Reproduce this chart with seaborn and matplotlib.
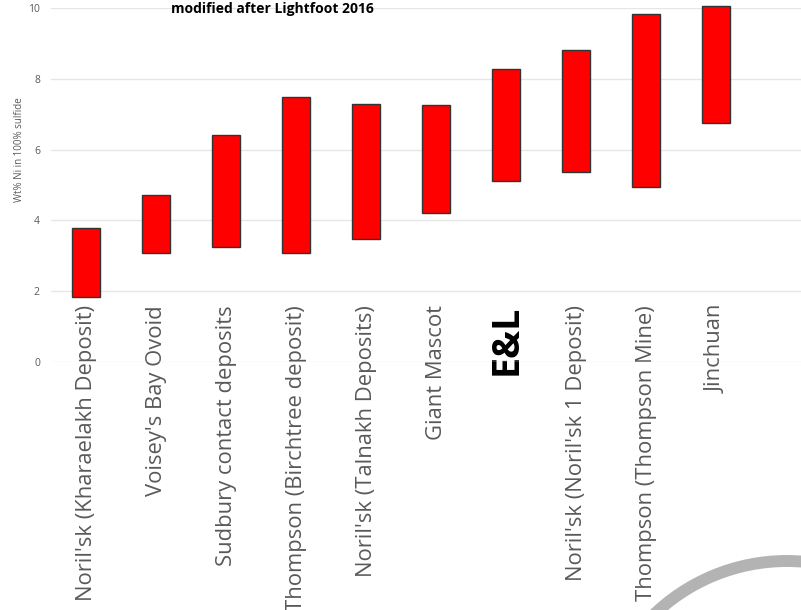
import numpy as np
import pandas as pd
import matplotlib
matplotlib.use('Agg')
import matplotlib.pyplot as plt
import seaborn as sns
from matplotlib.patches import Circle

# Ni grade ranges (wt% Ni in 100% sulfide)
deposits = [
    "Noril'sk (Kharaelakh Deposit)",
    "Voisey's Bay Ovoid",
    "Sudbury contact deposits",
    "Thompson (Birchtree deposit)",
    "Noril'sk (Talnakh Deposits)",
    "Giant Mascot",
    "E&L",
    "Noril'sk (Noril'sk 1 Deposit)",
    "Thompson (Thompson Mine)",
    "Jinchuan",
]
ni_low = [1.84, 3.08, 3.25, 3.08, 3.47, 4.20, 5.11, 5.37, 4.94, 6.76]
ni_high = [3.79, 4.72, 6.41, 7.49, 7.29, 7.26, 8.28, 8.81, 9.83, 10.05]
y_ticks = [0, 2, 4, 6, 8, 10]

df = pd.DataFrame({'deposit': deposits, 'low': ni_low, 'high': ni_high})
df['span'] = df['high'] - df['low']

sns.set_theme(style='white')
plt.rcParams['font.family'] = ['Open Sans', 'DejaVu Sans']

fig = plt.figure(figsize=(8.01, 6.10), dpi=100)
ax = fig.add_axes([51 / 801, 248 / 610, 750 / 801, 354 / 610])

sns.barplot(data=df, x='deposit', y='span', bottom=df['low'].values,
            color='#FF0000', saturation=1, width=0.4,
            edgecolor='#333333', linewidth=1, ax=ax, zorder=3)
for p in ax.patches:
    p.set_clip_on(False)

ax.set_xlim(-0.5, 10.21)
ax.set_ylim(0, 10)
ax.set_yticks(y_ticks)
ax.grid(axis='y', color='#e6e6e6', linewidth=1, zorder=0)
ax.set_axisbelow(True)
for s in ax.spines.values():
    s.set_visible(False)

ax.tick_params(axis='y', length=0, pad=8, labelsize=7.5, labelcolor='#595959')
ax.tick_params(axis='x', length=0, pad=-41, labelsize=15.8, labelcolor='#595959',
               labelrotation=90)
for lab in ax.get_xticklabels():
    lab.set_bbox(dict(facecolor='white', edgecolor='none', pad=1))
    if lab.get_text() == 'E&L':
        lab.set_fontweight('bold')
        lab.set_fontsize(27)
        lab.set_color('black')

ax.set_xlabel('')
ax.set_ylabel('')
fig.text(20 / 801, 1 - 150 / 610, 'Wt% Ni in 100% sulfide', rotation=90,
         ha='center', va='center', fontsize=7, color='#595959')
fig.text(272 / 801, 1 - 13 / 610, 'modified after Lightfoot 2016',
         ha='center', va='baseline', fontsize=10, fontweight='bold', color='black')

# decorative arc from the slide
fig.add_artist(Circle((787, 610 - 753), 192, transform=None, fill=False,
                      edgecolor='#b3b3b3', linewidth=8.6))

fig.savefig('out.png', dpi=100)
